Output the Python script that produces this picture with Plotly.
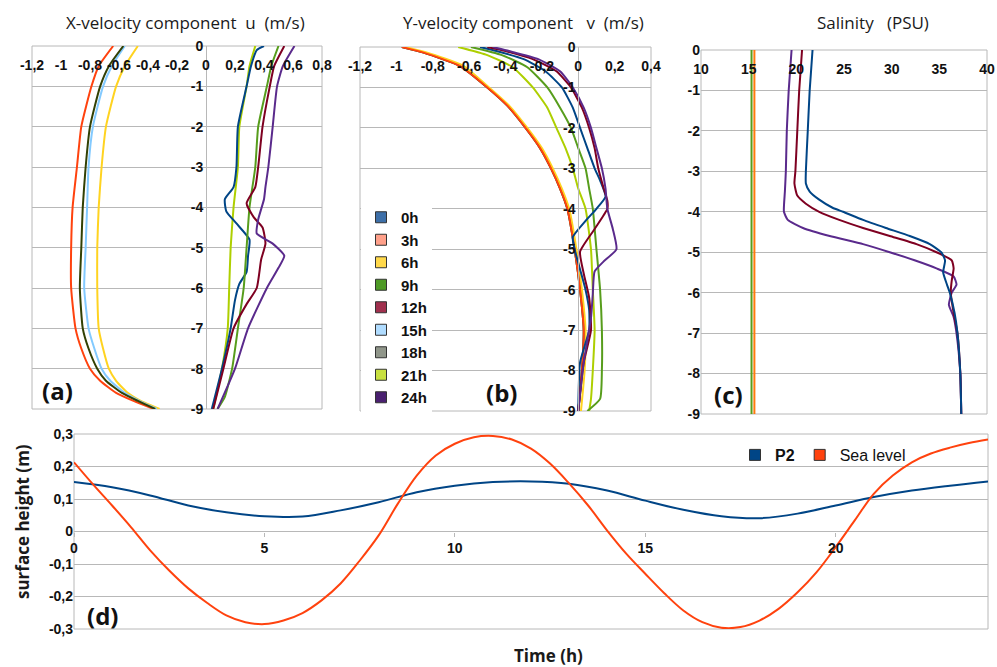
import plotly.graph_objects as go

W, H = 997, 667

# ---------------- data ----------------
hours_labels = ["0h", "3h", "6h", "9h", "12h", "15h", "18h", "21h", "24h"]
line_colors = {"0h": "#004586", "3h": "#ff420e", "6h": "#ffd320", "9h": "#579d1c", "12h": "#7e0021",
               "15h": "#83caff", "18h": "#314004", "21h": "#aecf00", "24h": "#5a2a8c"}
swatch_colors = {"0h": "#3d6fa8", "3h": "#ffa08a", "6h": "#ffd84a", "9h": "#4e9a26", "12h": "#a0304e",
                 "15h": "#b0dcff", "18h": "#90968a", "21h": "#c8e040", "24h": "#4a2070"}

# (a) X-velocity u (m/s)
a_depth_neg = [0, -0.5, -1, -2, -3, -4, -5, -6, -7, -7.5, -8, -8.3, -8.6, -8.8, -9]
a_u_3h = [-0.64, -0.74, -0.79, -0.86, -0.89, -0.92, -0.93, -0.93, -0.90, -0.86, -0.80, -0.73, -0.62, -0.50, -0.36]
a_u_18h = [-0.57, -0.67, -0.73, -0.80, -0.83, -0.85, -0.86, -0.87, -0.85, -0.81, -0.75, -0.69, -0.58, -0.47, -0.35]
a_u_15h = [-0.56, -0.65, -0.71, -0.78, -0.81, -0.82, -0.83, -0.84, -0.81, -0.77, -0.72, -0.66, -0.56, -0.46, -0.34]
a_u_6h = [-0.47, -0.56, -0.62, -0.69, -0.72, -0.74, -0.75, -0.75, -0.74, -0.71, -0.67, -0.62, -0.54, -0.45, -0.32]

a_depth_0h = [0, -0.1, -0.5, -1, -2, -3, -3.5, -3.8, -4.1, -4.4, -4.8, -5.2, -5.6, -5.9, -6.3, -7, -8, -9]
a_u_0h = [0.40, 0.35, 0.31, 0.28, 0.22, 0.21, 0.19, 0.13, 0.14, 0.21, 0.30, 0.29, 0.28, 0.23, 0.20, 0.17, 0.11, 0.04]
a_depth_21h = [0, -0.5, -1, -2, -3, -4, -5, -6, -7, -8, -9]
a_u_21h = [0.34, 0.30, 0.28, 0.23, 0.22, 0.19, 0.17, 0.16, 0.15, 0.11, 0.05]
a_depth_9h = [0, -0.5, -1, -2, -3, -4, -5, -6, -7, -8, -8.7, -9]
a_u_9h = [0.50, 0.45, 0.42, 0.36, 0.34, 0.30, 0.28, 0.26, 0.22, 0.18, 0.13, 0.08]
a_depth_12h = [0, -0.5, -1, -2, -3, -3.5, -3.9, -4.25, -4.5, -4.9, -5.3, -6, -6.4, -7, -8, -9]
a_u_12h = [0.54, 0.47, 0.44, 0.39, 0.36, 0.34, 0.28, 0.33, 0.39, 0.41, 0.38, 0.35, 0.28, 0.19, 0.12, 0.05]
a_depth_24h = [0, -0.5, -1, -2, -3, -3.5, -3.8, -4.3, -4.65, -4.9, -5.2, -5.5, -6, -7, -8, -9]
a_u_24h = [0.61, 0.53, 0.49, 0.46, 0.43, 0.41, 0.40, 0.36, 0.35, 0.46, 0.54, 0.50, 0.42, 0.29, 0.20, 0.08]

# (b) Y-velocity v (m/s)
b_depth_left = [0, -0.14, -0.47, -1, -1.45, -2, -2.5, -3, -3.5, -4, -5, -6, -7, -8, -9]
b_v_3h = [-0.97, -0.85, -0.65, -0.50, -0.39, -0.29, -0.21, -0.15, -0.10, -0.06, -0.02, 0.01, 0.03, 0.02, 0.00]
b_v_6h = [-0.95, -0.83, -0.63, -0.49, -0.38, -0.28, -0.20, -0.14, -0.09, -0.05, -0.01, 0.02, 0.04, 0.035, 0.015]
b_v_15h = [-0.97, -0.85, -0.65, -0.50, -0.39, -0.29, -0.21, -0.15, -0.10, -0.06, -0.02, 0.01, 0.03, 0.02, 0.00]
b_v_18h = [-0.97, -0.85, -0.65, -0.50, -0.39, -0.29, -0.21, -0.15, -0.10, -0.06, -0.02, 0.01, 0.03, 0.02, 0.00]
b_depth_mid = [0, -0.2, -0.5, -1, -1.5, -2, -2.5, -3, -3.5, -4, -5, -6, -7, -8, -8.7, -9]
b_v_21h = [-0.66, -0.50, -0.36, -0.25, -0.17, -0.12, -0.07, -0.03, 0.00, 0.04, 0.07, 0.08, 0.09, 0.08, 0.07, 0.06]
b_v_9h = [-0.59, -0.42, -0.28, -0.17, -0.10, -0.04, 0.00, 0.04, 0.06, 0.08, 0.10, 0.12, 0.13, 0.13, 0.12, 0.05]
b_depth_0h = [0, -0.1, -0.3, -0.6, -1, -1.5, -2, -2.5, -3, -3.3, -3.7, -4.0, -4.3, -4.7, -5.0, -5.5, -6, -6.5, -7, -7.8, -9]
b_v_0h = [-0.54, -0.45, -0.30, -0.18, -0.09, -0.03, 0.01, 0.05, 0.09, 0.12, 0.15, 0.10, 0.04, -0.03, -0.02, 0.01, 0.04, 0.06, 0.06, 0.01, 0.00]
b_depth_12h = [0, -0.1, -0.3, -0.6, -1, -1.5, -2, -2.5, -3, -3.5, -3.8, -4.0, -4.5, -5.06, -5.6, -6.2, -7, -7.8, -9]
b_v_12h = [-0.50, -0.40, -0.25, -0.12, -0.04, 0.02, 0.06, 0.09, 0.11, 0.14, 0.16, 0.16, 0.09, 0.01, 0.03, 0.06, 0.07, 0.03, 0.00]
b_depth_24h = [0, -0.1, -0.3, -0.6, -1, -1.5, -2, -2.5, -3, -3.5, -4, -4.5, -5.0, -5.3, -5.55, -6.1, -6.7, -7.8, -9]
b_v_24h = [-0.47, -0.38, -0.22, -0.10, -0.03, 0.03, 0.07, 0.10, 0.13, 0.15, 0.16, 0.19, 0.21, 0.14, 0.09, 0.08, 0.07, 0.03, 0.00]

# (c) Salinity (PSU)
c_depth_const = [0, -9]
c_s_green = [15.3, 15.3]
c_s_orange = [15.6, 15.6]
c_depth_blue = [0, -1, -2, -3, -3.3, -3.5, -3.7, -3.9, -4, -4.2, -4.4, -4.6, -4.8, -5, -5.2, -5.5, -5.8, -6, -6.5, -7, -8, -9]
c_s_blue = [21.7, 21.4, 21.2, 21.0, 21.0, 21.4, 22.4, 23.8, 24.9, 27.0, 29.4, 31.9, 34.0, 35.2, 35.6, 35.4, 35.8, 36.1, 36.6, 36.9, 37.2, 37.3]
c_depth_red = [0, -1, -2, -3, -3.3, -3.6, -3.8, -4, -4.2, -4.4, -4.6, -4.8, -5, -5.2, -5.4, -5.7, -6, -6.5, -7, -8, -9]
c_s_red = [20.6, 20.3, 20.1, 19.9, 19.8, 20.1, 21.0, 22.4, 24.5, 27.0, 29.8, 32.6, 34.7, 36.3, 36.5, 36.3, 36.2, 36.5, 36.9, 37.2, 37.3]
c_depth_purple = [0, -1, -2, -3, -3.5, -4, -4.2, -4.4, -4.6, -4.8, -5, -5.2, -5.4, -5.6, -5.8, -6, -6.3, -6.6, -7, -8, -9]
c_s_purple = [19.5, 19.2, 19.0, 18.9, 18.8, 18.7, 19.1, 20.7, 23.5, 27.0, 29.8, 32.4, 34.7, 36.5, 36.8, 36.3, 36.0, 36.5, 36.8, 37.2, 37.3]

# (d) surface height (m)
d_time_sea = [0, 0.5, 1, 1.5, 2, 2.5, 3, 3.5, 4, 4.5, 5, 5.5, 6, 6.5, 7, 7.5, 8, 8.5, 9, 9.5, 10, 10.5, 11, 11.5,
              12, 12.5, 13, 13.5, 14, 14.5, 15, 15.5, 16, 16.5, 17, 17.5, 18, 18.5, 19, 19.5, 20, 20.5, 21, 21.5,
              22, 22.5, 23, 23.5, 24]
d_sea_level = [0.213, 0.145, 0.080, 0.013, -0.058, -0.120, -0.175, -0.220, -0.258, -0.279, -0.285, -0.274, -0.251,
               -0.212, -0.160, -0.090, -0.012, 0.085, 0.172, 0.234, 0.270, 0.290, 0.294, 0.283,
               0.255, 0.209, 0.148, 0.080, 0.003, -0.068, -0.130, -0.190, -0.243, -0.279, -0.296, -0.294,
               -0.274, -0.238, -0.187, -0.125, -0.048, 0.034, 0.116, 0.172, 0.213, 0.240, 0.258, 0.272, 0.283]
d_time_p2 = list(range(0, 25))
d_p2 = [0.152, 0.136, 0.111, 0.080, 0.059, 0.047, 0.046, 0.065, 0.090, 0.121, 0.141, 0.152, 0.154, 0.147, 0.126,
        0.095, 0.067, 0.047, 0.041, 0.055, 0.080, 0.106, 0.126, 0.141, 0.154]

# tick labels
a_xticks = [-1.2, -1.0, -0.8, -0.6, -0.4, -0.2, 0, 0.2, 0.4, 0.6, 0.8]
a_xlabels = ["-1,2", "-1", "-0,8", "-0,6", "-0,4", "-0,2", "0", "0,2", "0,4", "0,6", "0,8"]
b_xticks = [-1.2, -1.0, -0.8, -0.6, -0.4, -0.2, 0, 0.2, 0.4]
b_xlabels = ["-1,2", "-1", "-0,8", "-0,6", "-0,4", "-0,2", "0", "0,2", "0,4"]
c_xticks = [10, 15, 20, 25, 30, 35, 40]
c_xlabels = ["10", "15", "20", "25", "30", "35", "40"]
depth_ticks = [0, -1, -2, -3, -4, -5, -6, -7, -8, -9]
depth_labels = ["0", "-1", "-2", "-3", "-4", "-5", "-6", "-7", "-8", "-9"]
d_xticks = [0, 5, 10, 15, 20]
d_xlabels = ["0", "5", "10", "15", "20"]
d_yticks = [0.3, 0.2, 0.1, 0, -0.1, -0.2, -0.3]
d_ylabels = ["0,3", "0,2", "0,1", "0", "-0,1", "-0,2", "-0,3"]

# ---------------- figure ----------------
GRID = "#b8b8b8"
TICKFONT = dict(family="Liberation Sans", size=14, color="#111111", weight=700)

fig = go.Figure()

def prof(x, y, color, xa, ya, name):
    fig.add_trace(go.Scatter(x=x, y=y, mode="lines", name=name, showlegend=False, hoverinfo="skip",
                             line=dict(color=color, width=2, shape="spline", smoothing=0.5),
                             xaxis=xa, yaxis=ya))

# (a)
for name, x in [("3h", a_u_3h), ("6h", a_u_6h), ("15h", a_u_15h), ("18h", a_u_18h)]:
    prof(x, a_depth_neg, line_colors[name], "x", "y", name)
prof(a_u_21h, a_depth_21h, line_colors["21h"], "x", "y", "21h")
prof(a_u_0h, a_depth_0h, line_colors["0h"], "x", "y", "0h")
prof(a_u_9h, a_depth_9h, line_colors["9h"], "x", "y", "9h")
prof(a_u_12h, a_depth_12h, line_colors["12h"], "x", "y", "12h")
prof(a_u_24h, a_depth_24h, line_colors["24h"], "x", "y", "24h")

# (b)
prof(b_v_15h, b_depth_left, line_colors["15h"], "x2", "y2", "15h")
prof(b_v_18h, b_depth_left, line_colors["18h"], "x2", "y2", "18h")
prof(b_v_6h, b_depth_left, line_colors["6h"], "x2", "y2", "6h")
prof(b_v_3h, b_depth_left, line_colors["3h"], "x2", "y2", "3h")
prof(b_v_21h, b_depth_mid, line_colors["21h"], "x2", "y2", "21h")
prof(b_v_9h, b_depth_mid, line_colors["9h"], "x2", "y2", "9h")
prof(b_v_0h, b_depth_0h, line_colors["0h"], "x2", "y2", "0h")
prof(b_v_12h, b_depth_12h, line_colors["12h"], "x2", "y2", "12h")
prof(b_v_24h, b_depth_24h, line_colors["24h"], "x2", "y2", "24h")

# legend (b)
for name in hours_labels:
    fig.add_trace(go.Scatter(x=[None], y=[None], mode="markers", name=name, showlegend=True,
                             marker=dict(symbol="square", size=11, color=swatch_colors[name],
                                         line=dict(color="#333333", width=1)),
                             xaxis="x2", yaxis="y2", legend="legend"))

# (c)
prof(c_s_green, c_depth_const, "#579d1c", "x3", "y3", "c1")
prof(c_s_orange, c_depth_const, "#ff7a0e", "x3", "y3", "c2")
prof(c_s_purple, c_depth_purple, "#5a2a8c", "x3", "y3", "c5")
prof(c_s_red, c_depth_red, "#7e0021", "x3", "y3", "c4")
prof(c_s_blue, c_depth_blue, "#004586", "x3", "y3", "c3")

# (d)
fig.add_trace(go.Scatter(x=d_time_p2, y=d_p2, mode="lines", name="<b>P2</b>", legend="legend2",
                         line=dict(color="#004586", width=2, shape="spline"), xaxis="x4", yaxis="y4",
                         showlegend=False))
fig.add_trace(go.Scatter(x=d_time_sea, y=d_sea_level, mode="lines", name="Sea level", legend="legend2",
                         line=dict(color="#ff420e", width=2, shape="spline"), xaxis="x4", yaxis="y4",
                         showlegend=False))
for nm, col in [("<b>P2</b>", "#004586"), ("Sea level", "#ff420e")]:
    fig.add_trace(go.Scatter(x=[None], y=[None], mode="markers", name=nm, legend="legend2",
                             marker=dict(symbol="square", size=11, color=col, line=dict(color="#333333", width=1)),
                             xaxis="x4", yaxis="y4"))

def px_x(p):
    return p / W

def px_y(p):
    return 1 - p / H

# panel geometry in pixels
A = dict(l=32, r=322, t=46, b=409, xr=(-1.2, 0.8))
B = dict(l=360, r=651, t=47, b=411, xr=(-1.2, 0.4))
C = dict(l=701, r=987, t=50, b=414, xr=(10, 40))
D = dict(l=74, r=988, t=434, b=629, xr=(0, 24), yr=(-0.3, 0.3))

def zero_pos(P):
    return px_x(P["l"] + (0 - P["xr"][0]) / (P["xr"][1] - P["xr"][0]) * (P["r"] - P["l"]))

common_x = dict(showgrid=False, zeroline=False, showline=False, ticks="outside", ticklen=6,
                tickcolor="rgba(0,0,0,0)", tickfont=TICKFONT, fixedrange=True, automargin=False)
common_y = dict(showgrid=True, gridcolor=GRID, gridwidth=1, zeroline=False, tickfont=TICKFONT,
                range=[-9, 0], tickvals=depth_ticks, ticktext=depth_labels, fixedrange=True, automargin=False)

layout = dict(
    template="none",
    width=W, height=H, margin=dict(l=0, r=0, t=0, b=0, pad=0),
    paper_bgcolor="white", plot_bgcolor="white", separators=", ", hovermode=False,
    xaxis=dict(domain=[px_x(A["l"]), px_x(A["r"])], range=list(A["xr"]), anchor="free", position=px_y(A["t"]),
               side="bottom", tickvals=a_xticks, ticktext=a_xlabels, **common_x),
    yaxis=dict(domain=[px_y(A["b"]), px_y(A["t"])], anchor="free", position=zero_pos(A), side="left",
               showline=True, linecolor=GRID, linewidth=1, **common_y),
    xaxis2=dict(domain=[px_x(B["l"]), px_x(B["r"])], range=list(B["xr"]), anchor="free", position=px_y(B["t"]),
                side="bottom", tickvals=b_xticks, ticktext=b_xlabels, **common_x),
    yaxis2=dict(domain=[px_y(B["b"]), px_y(B["t"])], anchor="free", position=zero_pos(B), side="left",
                showline=True, linecolor=GRID, linewidth=1, **common_y),
    xaxis3=dict(domain=[px_x(C["l"]), px_x(C["r"])], range=list(C["xr"]), anchor="free", position=px_y(C["t"]),
                side="bottom", tickvals=c_xticks, ticktext=c_xlabels, **common_x),
    yaxis3=dict(domain=[px_y(C["b"]), px_y(C["t"])], anchor="x3", side="left", showline=False, **common_y),
    xaxis4=dict(domain=[px_x(D["l"]), px_x(D["r"])], range=list(D["xr"]), anchor="free",
                position=px_y(D["b"] - (0 - D["yr"][0]) / (D["yr"][1] - D["yr"][0]) * (D["b"] - D["t"])),
                side="bottom", tickvals=d_xticks, ticktext=d_xlabels,
                showgrid=False, zeroline=False, showline=False, ticks="outside", ticklen=4, tickcolor=GRID,
                tickfont=TICKFONT, fixedrange=True, automargin=False),
    yaxis4=dict(domain=[px_y(D["b"]), px_y(D["t"])], range=list(D["yr"]), anchor="x4", side="left",
                tickvals=d_yticks, ticktext=d_ylabels, showgrid=True, gridcolor=GRID, gridwidth=1,
                zeroline=False, showline=False, ticks="", tickfont=TICKFONT, fixedrange=True, automargin=False),
    legend=dict(x=px_x(361), y=px_y(201), xanchor="left", yanchor="top", bgcolor="white",
                font=dict(family="Liberation Sans", size=15, color="#111111", weight=700),
                tracegroupgap=0, itemwidth=30, borderwidth=0),
    legend2=dict(x=px_x(735), y=px_y(438), xanchor="left", yanchor="top", orientation="h",
                 bgcolor="rgba(0,0,0,0)",
                 font=dict(family="Liberation Sans", size=16, color="#111111"), itemwidth=30, borderwidth=0),
    showlegend=True,
)
fig.update_layout(**layout)

# plot borders
shapes = []
for xa, ya in [("x", "y"), ("x2", "y2"), ("x3", "y3"), ("x4", "y4")]:
    shapes.append(dict(type="rect", xref=f"{xa} domain", yref=f"{ya} domain", x0=0, x1=1, y0=0, y1=1,
                       line=dict(color=GRID, width=1), layer="below"))
fig.update_layout(shapes=shapes)

NB = "\u00a0"
TF = dict(family="Open Sans", size=17, color="#1a1a1a")
LF = dict(family="Open Sans", size=24, color="#111111", weight=700)
ann = [
    dict(text=f"X-velocity component{NB}{NB}u{NB}{NB}(m/s)", x=px_x(185), y=px_y(23), font=TF),
    dict(text=f"Y-velocity component{NB}{NB}{NB}v{NB}{NB}(m/s)", x=px_x(523), y=px_y(23), font=TF),
    dict(text=f"Salinity{NB}{NB}{NB}(PSU)", x=px_x(873), y=px_y(23), font=TF),
    dict(text="(a)", x=px_x(57), y=px_y(391), font=LF),
    dict(text="(b)", x=px_x(502), y=px_y(392), font=LF),
    dict(text="(c)", x=px_x(728), y=px_y(394), font=LF),
    dict(text="(d)", x=px_x(102), y=px_y(615), font=LF),
    dict(text="Time (h)", x=px_x(548), y=px_y(655),
         font=dict(family="Open Sans", size=17, color="#1a1a1a", weight=700)),
    dict(text="surface height (m)", x=px_x(22), y=px_y(522), textangle=-90,
         font=dict(family="Open Sans", size=17, color="#1a1a1a", weight=700)),
]
for a in ann:
    a.update(xref="paper", yref="paper", showarrow=False, xanchor="center", yanchor="middle")
fig.update_layout(annotations=ann)

fig.write_html("out.html", config={"displayModeBar": False, "staticPlot": True},
               post_script="document.body.style.margin='0';document.body.style.padding='0';"
                           "document.body.style.overflow='hidden';")
